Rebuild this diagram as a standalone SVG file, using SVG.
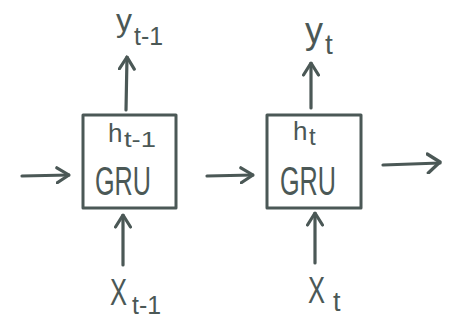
<svg xmlns="http://www.w3.org/2000/svg" width="450" height="333" viewBox="0 0 450 333">
  <style>
    .box { fill: none; stroke: #4b5856; stroke-width: 3; stroke-linejoin: round; }
    .wire { fill: none; stroke: #4b5856; stroke-width: 3.2; stroke-linecap: round; }
    .lbl { fill: #4b5856; font-family: "Liberation Sans", "DejaVu Sans", sans-serif; }
    .gru { font-size: 40px; }
  </style>
  <defs>
    <marker id="chev" viewBox="0 0 15 18" refX="13.5" refY="9" markerWidth="15" markerHeight="18" markerUnits="userSpaceOnUse" orient="auto">
      <path d="M1.5,1.5 L13.5,9 L1.5,16.5" fill="none" stroke="#4b5856" stroke-width="3.2" stroke-linecap="round" stroke-linejoin="round"/>
    </marker>
    <marker id="chev-lg" viewBox="0 0 16 22" refX="14" refY="11" markerWidth="16" markerHeight="22" markerUnits="userSpaceOnUse" orient="auto">
      <path d="M1.5,1.5 L14,10 L2,20.5" fill="none" stroke="#4b5856" stroke-width="3.4" stroke-linecap="round" stroke-linejoin="round"/>
    </marker>
  </defs>

  <g id="connectors">
    <!-- recurrent state flow -->
    <path class="wire" d="M22,176 L69,175" marker-end="url(#chev)"/>
    <path class="wire" d="M207,176 L253,175" marker-end="url(#chev)"/>
    <path class="wire" d="M383,165 L440,163" marker-end="url(#chev-lg)"/>
    <!-- outputs -->
    <path class="wire" d="M126,110 L127,57" marker-end="url(#chev)"/>
    <path class="wire" d="M311,108 L311,63" marker-end="url(#chev)"/>
    <!-- inputs -->
    <path class="wire" d="M123,265 L123,215" marker-end="url(#chev)"/>
    <path class="wire" d="M315,263 L315,213" marker-end="url(#chev)"/>
  </g>

  <g id="gru-prev">
    <rect class="box" x="83" y="115" width="93" height="93"/>
    <text class="lbl" x="108" y="142" font-size="26">h</text>
    <text class="lbl" x="124" y="147" font-size="22" textLength="32" lengthAdjust="spacingAndGlyphs">t-1</text>
    <text class="lbl gru" x="95" y="195" textLength="56" lengthAdjust="spacingAndGlyphs">GRU</text>
  </g>

  <g id="gru-curr">
    <rect class="box" x="267" y="115" width="94" height="93"/>
    <text class="lbl" x="293" y="140" font-size="26">h</text>
    <text class="lbl" x="309" y="145" font-size="24">t</text>
    <text class="lbl gru" x="280" y="195" textLength="56" lengthAdjust="spacingAndGlyphs">GRU</text>
  </g>

  <g id="out-prev">
    <text class="lbl" x="116" y="31" font-size="32">y</text>
    <text class="lbl" x="134" y="45" font-size="26" textLength="29" lengthAdjust="spacingAndGlyphs">t-1</text>
  </g>
  <g id="out-curr">
    <text class="lbl" x="305" y="43" font-size="36">y</text>
    <text class="lbl" x="325" y="54" font-size="28">t</text>
  </g>

  <g id="in-prev">
    <text class="lbl" x="110" y="305" font-size="36" textLength="17" lengthAdjust="spacingAndGlyphs">X</text>
    <text class="lbl" x="132" y="314" font-size="26" textLength="29" lengthAdjust="spacingAndGlyphs">t-1</text>
  </g>
  <g id="in-curr">
    <text class="lbl" x="308" y="303" font-size="36" textLength="17" lengthAdjust="spacingAndGlyphs">X</text>
    <text class="lbl" x="333" y="311" font-size="27">t</text>
  </g>
</svg>
